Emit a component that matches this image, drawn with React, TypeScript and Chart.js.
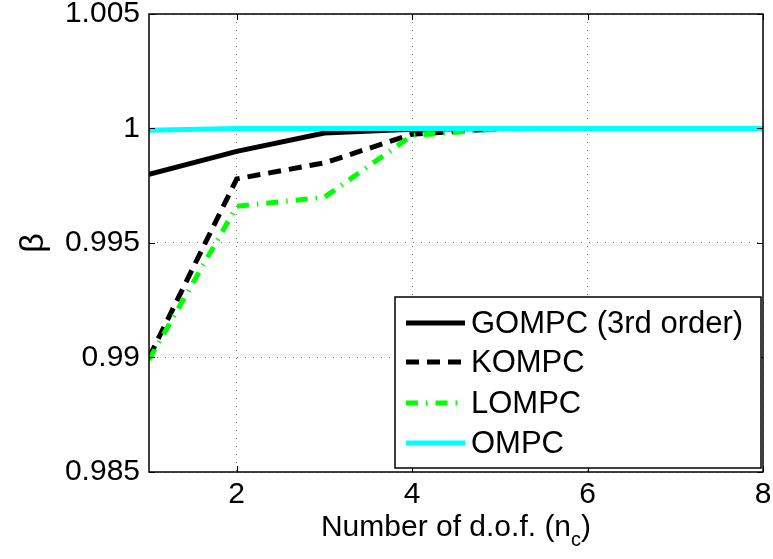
import React, { useEffect, useRef } from "react";
import { Chart, registerables } from "chart.js";

Chart.register(...registerables);

const X_VALUES = [1, 2, 3, 4, 5, 6, 7, 8];
const GOMPC = [0.998, 0.999, 0.9998, 0.99997, 1.0, 1.0, 1.0, 1.0];
const KOMPC = [0.99, 0.9978, 0.9985, 0.99975, 1.0, 1.0, 1.0, 1.0];
const LOMPC = [0.9899, 0.9966, 0.997, 0.9997, 0.99998, 1.0, 1.0, 1.0];
const OMPC = [0.99992, 1.0, 1.0, 1.0, 1.0, 1.0, 1.0, 1.0];

const SERIES_LABELS = ["GOMPC (3rd order)", "KOMPC", "LOMPC", "OMPC"];
const X_TICKS = [2, 4, 6, 8];
const Y_TICKS = [0.985, 0.99, 0.995, 1, 1.005];
const Y_TICK_LABELS = ["0.985", "0.99", "0.995", "1", "1.005"];
const X_TITLE = "Number of d.o.f. (n";
const X_TITLE_SUB = "c";
const X_TITLE_END = ")";
const Y_TITLE = "β";

const FONT = "'Liberation Sans', Arial, Helvetica, sans-serif";

const overlay = {
  id: "overlay",
  afterDraw(chart: any) {
    const { ctx, chartArea: a, scales } = chart;
    const xs = scales.x;
    const ys = scales.y;
    ctx.save();
    // inward ticks
    ctx.strokeStyle = "#000";
    ctx.lineWidth = 1;
    ctx.setLineDash([]);
    ctx.beginPath();
    for (const v of X_TICKS) {
      const px = Math.round(xs.getPixelForValue(v)) + 0.5;
      ctx.moveTo(px, a.bottom);
      ctx.lineTo(px, a.bottom - 6);
      ctx.moveTo(px, a.top);
      ctx.lineTo(px, a.top + 6);
    }
    for (const v of Y_TICKS) {
      const py = Math.round(ys.getPixelForValue(v)) + 0.5;
      ctx.moveTo(a.left, py);
      ctx.lineTo(a.left + 6, py);
      ctx.moveTo(a.right, py);
      ctx.lineTo(a.right - 6, py);
    }
    ctx.stroke();
    // axes box
    ctx.lineWidth = 1.5;
    ctx.strokeRect(a.left, a.top, a.right - a.left, a.bottom - a.top);

    // legend
    const lw = 366;
    const lh = 171;
    const lx = a.right - lw - 2;
    const ly = a.bottom - lh - 4;
    ctx.fillStyle = "#fff";
    ctx.fillRect(lx, ly, lw, lh);
    ctx.lineWidth = 1.5;
    ctx.strokeStyle = "#000";
    ctx.strokeRect(lx, ly, lw, lh);
    const rows = [26, 65, 106, 146];
    ctx.font = `31px ${FONT}`;
    ctx.textBaseline = "middle";
    ctx.textAlign = "left";
    chart.data.datasets.forEach((ds: any, i: number) => {
      const y = ly + rows[i];
      ctx.save();
      ctx.strokeStyle = ds.borderColor;
      ctx.lineWidth = ds.borderWidth;
      ctx.lineCap = "butt";
      ctx.setLineDash(ds.borderDash || []);
      ctx.beginPath();
      ctx.moveTo(lx + 11, y);
      ctx.lineTo(lx + 70, y);
      ctx.stroke();
      ctx.restore();
      ctx.fillStyle = "#000";
      ctx.fillText(ds.label, lx + 76, y + 1);
    });

    // x title with subscript
    const cx = (a.left + a.right) / 2;
    const by = a.bottom + 64;
    ctx.textBaseline = "alphabetic";
    ctx.font = `30px ${FONT}`;
    const w1 = ctx.measureText(X_TITLE).width;
    const w3 = ctx.measureText(X_TITLE_END).width;
    ctx.font = `20px ${FONT}`;
    const w2 = ctx.measureText(X_TITLE_SUB).width;
    let sx = cx - (w1 + w2 + w3) / 2;
    ctx.fillStyle = "#000";
    ctx.font = `30px ${FONT}`;
    ctx.fillText(X_TITLE, sx, by);
    sx += w1;
    ctx.font = `20px ${FONT}`;
    ctx.fillText(X_TITLE_SUB, sx, by + 10);
    sx += w2;
    ctx.font = `30px ${FONT}`;
    ctx.fillText(X_TITLE_END, sx, by);

    // y title (rotated)
    ctx.save();
    ctx.translate(a.left - 106, (a.top + a.bottom) / 2);
    ctx.rotate(-Math.PI / 2);
    ctx.textAlign = "center";
    ctx.textBaseline = "alphabetic";
    ctx.font = `34px ${FONT}`;
    ctx.fillText(Y_TITLE, 0, 0);
    ctx.restore();

    ctx.restore();
  },
};

export default function App() {
  const ref = useRef<HTMLCanvasElement>(null);
  useEffect(() => {
    document.body.style.margin = "0";
    const canvas = ref.current;
    if (!canvas) return;
    const mk = (data: number[]) => X_VALUES.map((x, i) => ({ x, y: data[i] }));
    const chart = new Chart(canvas, {
      type: "line",
      data: {
        datasets: [
          { label: SERIES_LABELS[0], data: mk(GOMPC), borderColor: "#000000", borderWidth: 5, pointRadius: 0, order: 3, borderCapStyle: "butt" },
          { label: SERIES_LABELS[1], data: mk(KOMPC), borderColor: "#000000", borderWidth: 5, borderDash: [13, 8], pointRadius: 0, order: 2, borderCapStyle: "butt" },
          { label: SERIES_LABELS[2], data: mk(LOMPC), borderColor: "#00ff00", borderWidth: 5, borderDash: [12, 8, 1.5, 8], pointRadius: 0, order: 1, borderCapStyle: "butt" },
          { label: SERIES_LABELS[3], data: mk(OMPC), borderColor: "#00ffff", borderWidth: 5, pointRadius: 0, order: 0, borderCapStyle: "butt" },
        ] as any,
      },
      options: {
        animation: false,
        responsive: true,
        maintainAspectRatio: false,
        layout: { padding: { top: 14, right: 10, left: 0, bottom: 0 } },
        plugins: { legend: { display: false }, tooltip: { enabled: false } },
        scales: {
          x: {
            type: "linear",
            min: 1,
            max: 8,
            afterBuildTicks: (s: any) => {
              s.ticks = X_TICKS.map((v) => ({ value: v }));
            },
            afterFit: (s: any) => {
              s.height = 87;
              s.paddingLeft = 0;
              s.paddingRight = 0;
            },
            grid: { color: "#777", lineWidth: 1, drawTicks: false },
            border: { display: false, dash: [1, 7] },
            ticks: {
              color: "#000",
              padding: 8,
              maxRotation: 0,
              font: { family: FONT, size: 30, lineHeight: 1 },
              callback: (v: any) => String(v),
            },
          },
          y: {
            type: "linear",
            min: 0.985,
            max: 1.005,
            afterBuildTicks: (s: any) => {
              s.ticks = Y_TICKS.map((v) => ({ value: v }));
            },
            afterFit: (s: any) => {
              s.width = 149;
              s.paddingTop = 0;
              s.paddingBottom = 0;
            },
            grid: { color: "#777", lineWidth: 1, drawTicks: false },
            border: { display: false, dash: [1, 7] },
            ticks: {
              color: "#000",
              padding: 9,
              font: { family: FONT, size: 30, lineHeight: 1 },
              callback: (_v: any, i: number) => Y_TICK_LABELS[i],
            },
          },
        },
      },
      plugins: [overlay],
    });
    return () => chart.destroy();
  }, []);
  return (
    <div style={{ position: "fixed", left: 0, top: 0, width: 773, height: 559, background: "#fff" }}>
      <canvas ref={ref} />
    </div>
  );
}
